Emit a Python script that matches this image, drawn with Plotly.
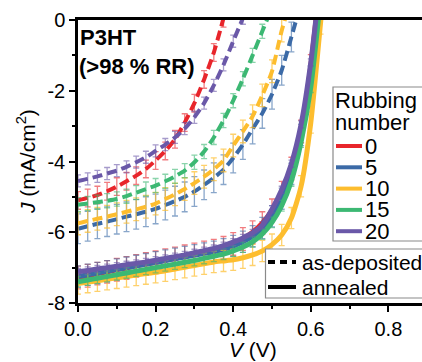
import plotly.graph_objects as go

# ---------------- data ----------------
V = [0.000, 0.025, 0.050, 0.075, 0.100, 0.125, 0.150, 0.175, 0.200, 0.225,
     0.250, 0.275, 0.300, 0.325, 0.350, 0.375, 0.400, 0.425, 0.450, 0.475,
     0.500, 0.525, 0.550, 0.575, 0.600, 0.625, 0.650]

rubbing_labels = ["0", "5", "10", "15", "20"]
colors = ["#e8252b", "#3b6aa7", "#fdbd2e", "#3cb873", "#6a58a8"]
err_colors = ["rgba(232,37,43,0.6)", "rgba(59,106,167,0.6)", "rgba(253,189,46,0.7)",
              "rgba(60,184,115,0.6)", "rgba(106,88,168,0.6)"]

# as-deposited J (mA/cm2)
J_dep_0 = [-5.10, -5.03, -4.95, -4.84, -4.71, -4.56, -4.40, -4.21, -3.97, -3.70,
           -3.37, -2.90, -2.35, -1.68, -0.92, 0.05]
J_dep_5 = [-5.90, -5.83, -5.76, -5.70, -5.63, -5.56, -5.49, -5.42, -5.34, -5.23,
           -5.12, -5.00, -4.85, -4.66, -4.46, -4.23, -3.90, -3.52, -3.08, -2.64,
           -2.10, -1.42, -0.48, 0.50]
J_dep_10 = [-5.75, -5.68, -5.62, -5.56, -5.49, -5.42, -5.35, -5.28, -5.19, -5.06,
            -4.93, -4.78, -4.61, -4.43, -4.22, -3.97, -3.55, -3.15, -2.72, -2.13,
            -1.45, -0.30, 0.60]
J_dep_15 = [-5.22, -5.19, -5.15, -5.11, -5.06, -4.98, -4.88, -4.78, -4.68, -4.56,
            -4.42, -4.26, -4.02, -3.72, -3.32, -2.84, -2.28, -1.66, -1.00, -0.32, 0.35]
J_dep_20 = [-4.55, -4.49, -4.42, -4.34, -4.26, -4.15, -4.02, -3.88, -3.70, -3.52,
            -3.32, -3.07, -2.75, -2.35, -1.85, -1.27, -0.60, 0.05]
err_dep = [0.25, 0.42, 0.32, 0.20, 0.17]

# annealed J (mA/cm2)
J_ann_0 = [-7.28, -7.23, -7.17, -7.12, -7.06, -7.01, -6.95, -6.90, -6.85, -6.79,
           -6.74, -6.68, -6.63, -6.57, -6.52, -6.44, -6.33, -6.19, -6.00, -5.74,
           -5.38, -4.88, -4.20, -3.15, -1.30, 1.20]
J_ann_5 = [-7.25, -7.20, -7.15, -7.10, -7.05, -7.00, -6.95, -6.90, -6.85, -6.80,
           -6.75, -6.70, -6.65, -6.60, -6.55, -6.48, -6.39, -6.27, -6.11, -5.88,
           -5.55, -5.05, -4.35, -3.25, -1.60, 0.90]
J_ann_10 = [-7.45, -7.41, -7.37, -7.33, -7.29, -7.25, -7.21, -7.17, -7.13, -7.09,
            -7.04, -6.99, -6.94, -6.89, -6.84, -6.81, -6.78, -6.72, -6.64, -6.53,
            -6.35, -6.08, -5.60, -4.70, -2.90, -0.10, 2.80]
J_ann_15 = [-7.40, -7.35, -7.30, -7.25, -7.20, -7.15, -7.10, -7.05, -7.00, -6.95,
            -6.90, -6.85, -6.80, -6.74, -6.68, -6.62, -6.53, -6.42, -6.27, -6.05,
            -5.72, -5.25, -4.55, -3.45, -1.90, 0.60]
J_ann_20 = [-7.12, -7.08, -7.04, -7.00, -6.96, -6.92, -6.88, -6.84, -6.79, -6.74,
            -6.69, -6.64, -6.58, -6.52, -6.46, -6.38, -6.28, -6.16, -6.02, -5.80,
            -5.35, -4.80, -4.06, -2.95, -1.20, 1.20]
err_ann = [0.32, 0.30, 0.30, 0.15, 0.10]

x_tickvals = [0.0, 0.2, 0.4, 0.6, 0.8]
x_ticktext = ["0.0", "0.2", "0.4", "0.6", "0.8"]
y_tickvals = [0, -2, -4, -6, -8]
y_ticktext = ["0", "-2", "-4", "-6", "-8"]
style_labels = ["as-deposited", "annealed"]
x_title = "<i>V</i> (V)"
y_title = "<i>J</i> (mA/cm<sup>2</sup>)"

# ---------------- figure ----------------
W, H = 422, 362
ML, MR, MT, MB = 78, 0, 20, 59
PW, PH = W - ML - MR, H - MT - MB
FONT = "Liberation Sans, Arial, sans-serif"


def px(xp):
    return (xp - ML) / PW


def py(yp):
    return 1 - (yp - MT) / PH


fig = go.Figure()

dep = [J_dep_0, J_dep_5, J_dep_10, J_dep_15, J_dep_20]
ann = [J_ann_0, J_ann_5, J_ann_10, J_ann_15, J_ann_20]

for J, c, ec, e in zip(dep, colors, err_colors, err_dep):
    fig.add_trace(go.Scatter(
        x=V[:len(J)], y=J, mode="lines",
        line=dict(color=c, width=4, dash="10px,5px", shape="spline", smoothing=0.6),
        error_y=dict(type="constant", value=e, color=ec, thickness=1.3, width=3),
        showlegend=False, hoverinfo="skip"))

for J, c, ec, e in zip(ann, colors, err_colors, err_ann):
    fig.add_trace(go.Scatter(
        x=V[:len(J)], y=J, mode="lines",
        line=dict(color=c, width=5, shape="spline", smoothing=0.6),
        error_y=dict(type="constant", value=e, color=ec, thickness=1.3, width=3),
        showlegend=False, hoverinfo="skip"))

axis_common = dict(showline=True, linecolor="black", linewidth=2.5,
                   ticks="outside", ticklen=6, tickwidth=2, tickcolor="black",
                   showgrid=False, zeroline=False, automargin=False,
                   tickfont=dict(family=FONT, size=20, color="black"))

fig.update_xaxes(range=[0, PW / 388.0], tickmode="array", tickvals=x_tickvals,
                 ticktext=x_ticktext, mirror=True,
                 minor=dict(tickmode="linear", tick0=0, dtick=0.1, ticks="outside",
                            ticklen=3, tickwidth=2, tickcolor="black"),
                 **axis_common)
fig.update_yaxes(range=[-8, 0], tickmode="array", tickvals=y_tickvals,
                 ticktext=y_ticktext,
                 minor=dict(tickmode="linear", tick0=0, dtick=1, ticks="outside",
                            ticklen=3, tickwidth=2, tickcolor="black"),
                 **axis_common)

shapes = []
annotations = []


def text(xp, yp, s, size=21, anchor="left", angle=0):
    annotations.append(dict(x=px(xp), y=py(yp), xref="paper", yref="paper",
                            xanchor=anchor, yanchor="middle", showarrow=False,
                            text=s, textangle=angle,
                            font=dict(family=FONT, size=size, color="black")))


# axis titles
text(253, 349, x_title, anchor="center")
text(26, 162, y_title, anchor="center", angle=-90)

# sample label text
text(78, 37, "<b>P3HT</b>", size=22)
text(77, 67, "<b>(>98 % RR)</b>", size=22)

# legend 1: rubbing number
shapes.append(dict(type="rect", xref="paper", yref="paper", x0=px(333), x1=px(440),
                   y0=py(241), y1=py(87), line=dict(color="#8a8a8a", width=1.2),
                   fillcolor="white", layer="above"))
text(333, 100, "Rubbing", size=22)
text(333, 123, "number", size=22)
for i, (lab, c) in enumerate(zip(rubbing_labels, colors)):
    yc = 146 + i * 21.3
    shapes.append(dict(type="line", xref="paper", yref="paper", x0=px(336), x1=px(362),
                       y0=py(yc), y1=py(yc), line=dict(color=c, width=4), layer="above"))
    text(363, yc, lab, size=22)

# legend 2: treatment
shapes.append(dict(type="rect", xref="paper", yref="paper", x0=px(265.5), x1=px(440),
                   y0=py(298), y1=py(249), line=dict(color="#8a8a8a", width=1.2),
                   fillcolor="white", layer="above"))
for i, (lab, dsh) in enumerate(zip(style_labels, ["7px,5px", "solid"])):
    yc = 262 + i * 25
    shapes.append(dict(type="line", xref="paper", yref="paper", x0=px(268), x1=px(296),
                       y0=py(yc), y1=py(yc), line=dict(color="black", width=4, dash=dsh),
                       layer="above"))
    text(300, yc, lab)

fig.update_layout(width=W, height=H, margin=dict(l=ML, r=MR, t=MT, b=MB),
                  paper_bgcolor="white", plot_bgcolor="white",
                  shapes=shapes, annotations=annotations, showlegend=False,
                  font=dict(family=FONT, color="black"))

fig.write_html("out.html", config={"displayModeBar": False},
               post_script="document.body.style.margin='0';document.body.style.padding='0';")
